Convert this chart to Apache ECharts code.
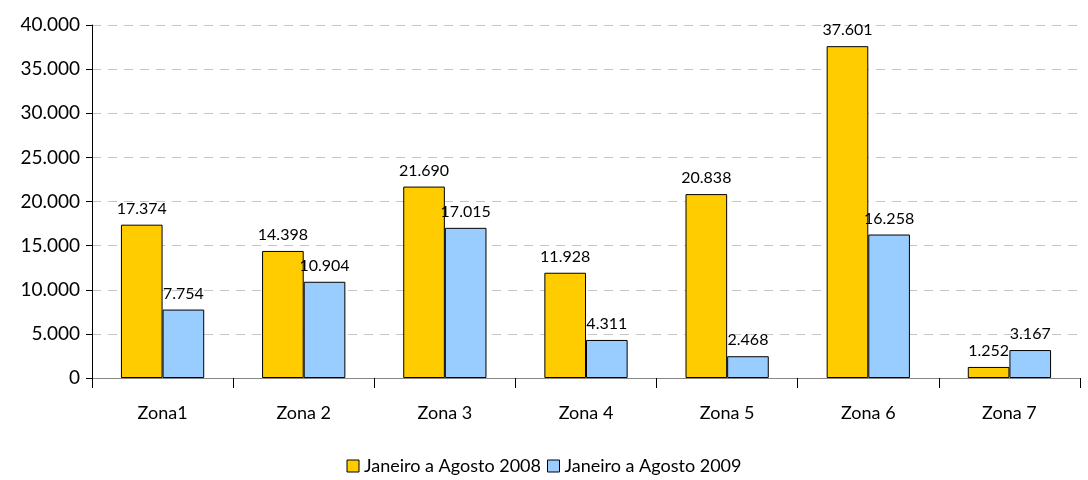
<!DOCTYPE html>
<html><head><meta charset="utf-8">
<script src="https://cdn.jsdelivr.net/npm/echarts@6/dist/echarts.min.js"></script>
<style>html,body{margin:0;padding:0;background:#fff}#c{width:1088px;height:480px}</style>
</head><body><div id="c"></div>
<script>
const categories = ['Zona1','Zona 2','Zona 3','Zona 4','Zona 5','Zona 6','Zona 7'];
const series2008 = [17374, 14398, 21690, 11928, 20838, 37601, 1252];
const series2009 = [7754, 10904, 17015, 4311, 2468, 16258, 3167];
const seriesNames = ['Janeiro a Agosto 2008','Janeiro a Agosto 2009'];
const fmt = v => { const s = String(Math.round(v)); return s.replace(/\B(?=(\d{3})+(?!\d))/g, '.'); };
const font = 'Lato, "Open Sans", sans-serif';
const chart = echarts.init(document.getElementById('c'));
const label = {show:true, position:'top', distance:8, color:'#000', fontSize:16, fontFamily:font, formatter:p=>fmt(p.value)};
chart.setOption({
  animation:false,
  textStyle:{fontFamily:font},
  grid:{left:92,right:8,top:25,bottom:102,containLabel:false},
  legend:{bottom:0,left:'center',itemWidth:12,itemHeight:12,itemGap:6,icon:'rect',
    itemStyle:{borderColor:'#000',borderWidth:1},
    textStyle:{fontSize:18,color:'#000',fontFamily:font},data:seriesNames},
  xAxis:{type:'category',data:categories,
    axisLine:{lineStyle:{color:'#888',width:1}},
    axisTick:{show:true,length:10,lineStyle:{color:'#000'}},
    axisLabel:{color:'#000',fontSize:18,margin:26,fontFamily:font}},
  yAxis:{type:'value',min:0,max:40000,interval:5000,
    axisLine:{show:true,lineStyle:{color:'#000'}},
    axisTick:{show:true,inside:false,length:6,lineStyle:{color:'#000'}},
    splitLine:{lineStyle:{type:[9,7],color:'#c4c4c4'}},
    axisLabel:{color:'#000',fontSize:19,margin:12,fontFamily:font,formatter:v=>fmt(v)}},
  series:[
    {name:seriesNames[0],type:'bar',data:series2008,barGap:'0%',barCategoryGap:'41%',
     itemStyle:{color:'#FFCC00',borderColor:'#000',borderWidth:1},label},
    {name:seriesNames[1],type:'bar',data:series2009,barGap:'0%',barCategoryGap:'41%',
     itemStyle:{color:'#99CCFF',borderColor:'#000',borderWidth:1},label}
  ]
});
</script></body></html>
